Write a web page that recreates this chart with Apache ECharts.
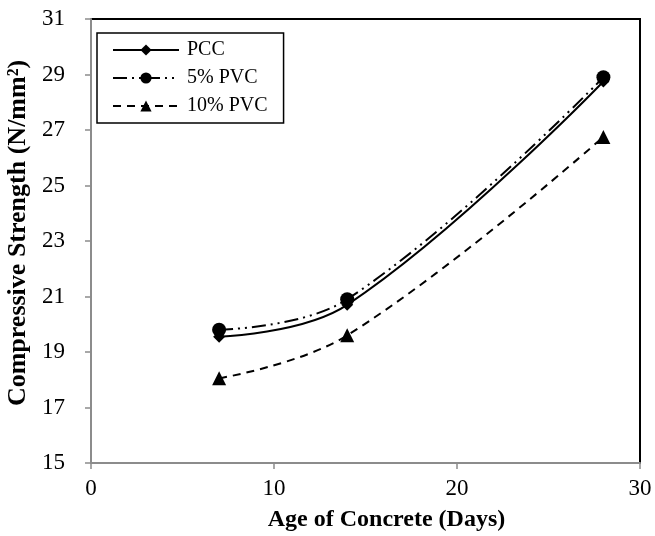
<!DOCTYPE html>
<html>
<head>
<meta charset="utf-8">
<style>
  html, body { margin: 0; padding: 0; background: #fff; }
  #chart { width: 655px; height: 536px; }
</style>
<script src="https://cdn.jsdelivr.net/npm/echarts@6/dist/echarts.min.js"></script>
</head>
<body>
<div id="chart"></div>
<script>
// 数据
var ages = [7, 14, 28];
var pcc = [19.55, 20.7, 28.75];
var pvc5 = [19.8, 20.9, 28.9];
var pvc10 = [18.05, 19.6, 26.75];
var yTicks = [15, 17, 19, 21, 23, 25, 27, 29, 31];

function pairs(ys) {
    var out = [];
    for (var i = 0; i < ages.length; i++) {
        out.push([ages[i], ys[i]]);
    }
    return out;
}

var font = '"Liberation Serif", "Times New Roman", serif';
var myChart = echarts.init(document.getElementById('chart'));
var option = {
    animation: false,
    textStyle: { fontFamily: font },
    grid: {
        left: 91, right: 15, top: 19, bottom: 73,
        containLabel: false,
        outerBoundsMode: 'none',
        show: true,
        borderColor: '#000',
        borderWidth: 2
    },
    legend: {
        orient: 'vertical',
        left: 97, top: 33,
        itemWidth: 66,
        itemHeight: 14,
        itemGap: 8,
        padding: [7, 16, 7, 15],
        borderColor: '#000',
        borderWidth: 1.5,
        backgroundColor: '#fff',
        textStyle: { fontFamily: font, fontSize: 20, color: '#000', padding: [0, 0, 0, 3] },
        data: ['PCC', '5% PVC', '10% PVC']
    },
    xAxis: {
        type: 'value',
        min: 0, max: 30, interval: 10,
        name: 'Age of Concrete (Days)',
        nameLocation: 'middle',
        nameGap: 45,
        nameTextStyle: { fontFamily: font, fontSize: 24, fontWeight: 'bold', color: '#000', padding: [0, 0, 0, 42] },
        splitLine: { show: false },
        axisLine: { lineStyle: { color: '#8c8c8c', width: 2 } },
        axisTick: { inside: false, length: 6, lineStyle: { color: '#8c8c8c', width: 1.5 } },
        axisLabel: { fontFamily: font, fontSize: 23, color: '#000', margin: 14 }
    },
    yAxis: {
        type: 'value',
        min: 15, max: 31, interval: 2,
        name: 'Compressive Strength (N/mm²)',
        nameLocation: 'middle',
        nameGap: 56,
        nameTextStyle: { fontFamily: font, fontSize: 26, fontWeight: 'bold', color: '#000', padding: [0, 0, 0, 16] },
        splitLine: { show: false },
        axisLine: { lineStyle: { color: '#8c8c8c', width: 2 } },
        axisTick: { inside: false, length: 6, lineStyle: { color: '#8c8c8c', width: 1.5 } },
        axisLabel: {
            fontFamily: font, fontSize: 23, color: '#000', margin: 26,
            formatter: function (v) { return yTicks.indexOf(v) >= 0 ? String(v) : ''; }
        }
    },
    series: [
        {
            name: 'PCC',
            type: 'line',
            smooth: 0.4,
            data: pairs(pcc),
            symbol: 'diamond',
            symbolSize: 12,
            itemStyle: { color: '#000' },
            lineStyle: { color: '#000', width: 2, type: 'solid' }
        },
        {
            name: '5% PVC',
            type: 'line',
            smooth: 0.4,
            data: pairs(pvc5),
            symbol: 'circle',
            symbolSize: 14,
            itemStyle: { color: '#000' },
            lineStyle: { color: '#000', width: 2, type: [14, 5, 2, 5, 2, 5] }
        },
        {
            name: '10% PVC',
            type: 'line',
            smooth: 0.4,
            data: pairs(pvc10),
            symbol: 'triangle',
            symbolSize: 14,
            itemStyle: { color: '#000' },
            lineStyle: { color: '#000', width: 2, type: [8, 6] }
        }
    ]
};
myChart.setOption(option);
</script>
</body>
</html>
